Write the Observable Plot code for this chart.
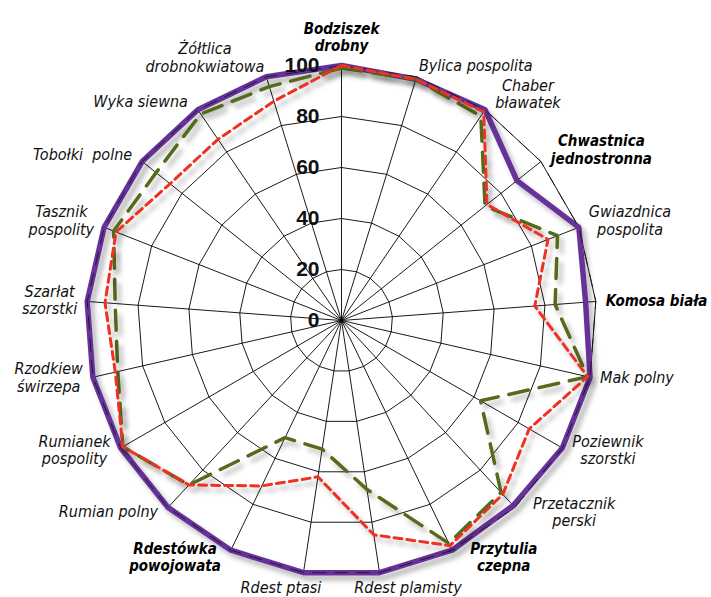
<!DOCTYPE html>
<html>
<head>
<meta charset="utf-8">
<script src="https://cdn.jsdelivr.net/npm/d3@7"></script>
<script src="https://cdn.jsdelivr.net/npm/@observablehq/plot@0.6"></script>
<style>
  html, body { margin: 0; padding: 0; background: #fff; }
  #chart svg { display: block; }
</style>
</head>
<body>
<div id="chart"></div>
<script>
// ---- data ----
const categories = ["Bodziszek drobny", "Bylica pospolita", "Chaber bławatek", "Chwastnica jednostronna", "Gwiazdnica pospolita", "Komosa biała", "Mak polny", "Poziewnik szorstki", "Przetacznik perski", "Przytulia czepna", "Rdest plamisty", "Rdest ptasi", "Rdestówka powojowata", "Rumian polny", "Rumianek pospolity", "Rzodkiew świrzepa", "Szarłat szorstki", "Tasznik pospolity", "Tobołki polne", "Wyka siewna", "Żółtlica drobnokwiatowa"];
const categoryLabels = ["Bodziszek\ndrobny", "Bylica pospolita", "Chaber\nbławatek", "Chwastnica\njednostronna", "Gwiazdnica\npospolita", "Komosa biała", "Mak polny", "Poziewnik\nszorstki", "Przetacznik\nperski", "Przytulia\nczepna", "Rdest plamisty", "Rdest ptasi", "Rdestówka\npowojowata", "Rumian polny", "Rumianek\npospolity", "Rzodkiew\nświrzepa", "Szarłat\nszorstki", "Tasznik\npospolity", "Tobołki  polne", "Wyka siewna", "Żółtlica\ndrobnokwiatowa"];
const boldCategories = ["Bodziszek drobny", "Chwastnica jednostronna", "Komosa biała", "Przytulia czepna", "Rdestówka powojowata"];
const seriesPurple = [100, 99, 100, 88, 100, 96, 100, 100, 99, 100, 100, 100, 100, 100, 100, 100, 100, 100, 100, 100, 100];
const seriesGreen  = [99, 99, 97, 72, 91, 84, 99, 63, 92, 97, 67, 51, 51, 88, 99, 90, 89, 96, 93, 98, 96];
const seriesRed    = [100, 99, 99, 73, 87, 76, 99, 85, 93, 98, 85, 62, 72, 88, 99, 91, 93, 95, 86, 86, 90];
const radialTicks = [0, 20, 40, 60, 80, 100];
const gridLevels = [20, 40, 60, 80, 100];

// ---- layout ----
const W = 711, H = 597;
const CX = 341, CY = 320, R = 255;
const pxPerUnit = R / 100;
const n = categories.length;
const ang = i => i * 2 * Math.PI / n;
const px = (v, i) => v * Math.sin(ang(i));
const py = (v, i) => v * Math.cos(ang(i));

// closed polygons: repeat the first vertex at the end
const idxClosed = d3.range(n + 1).map(j => j % n);
const rows = (vals) => idxClosed.map(i => ({i, v: vals[i]}));
const grid = gridLevels.flatMap(lv => idxClosed.map(i => ({lv, i})));
const spokes = categories.map((c, i) => ({i}));

const ctx = document.createElement("canvas").getContext("2d");
function tw(s, font) { ctx.font = font; return ctx.measureText(s).width; }
const LFAMILY = "'DejaVu Sans Condensed', sans-serif";
const LSIZE = 16, BSIZE = 15;
const LLINE = 17.5;

// category labels sit just outside the outer polygon, beside their spoke
const labelRows = categories.map((c, i) => {
  const bold = boldCategories.includes(c);
  const lines = categoryLabels[i].split("\n");
  const size = bold ? BSIZE : LSIZE;
  const font = `italic ${bold ? "bold" : "normal"} ${size}px ${LFAMILY}`;
  const w = d3.max(lines, l => tw(l, font));
  const h = lines.length * LLINE;
  const s = Math.sin(ang(i)), co = Math.cos(ang(i));
  const k = Math.min(1, Math.abs(s) * 3);
  const gap = (co < -0.55 && s > 0 && k === 1) ? 18 : 10;
  const dx = Math.sign(s) * k * (w / 2 + gap);
  let dy;
  if (co > 0) dy = -co * (h / 2 + 11) * (1 - k) - co * (h / 2 + 2) * k;
  else dy = -co * (h / 2 + 12) * (1 - k) + co * co * 8 * k;
  const cxp = R * s + dx, cyp = -R * co + dy;
  return {i, bold, text: categoryLabels[i], x: cxp / pxPerUnit, y: -cyp / pxPerUnit};
});

const xDomain = [-CX / pxPerUnit, (W - CX) / pxPerUnit];
const yDomain = [-(H - CY) / pxPerUnit, CY / pxPerUnit];

const seriesMark = (vals, opts) => Plot.line(rows(vals), {
  x: d => px(d.v, d.i), y: d => py(d.v, d.i),
  strokeLinejoin: "miter", className: "series", ...opts
});

const chart = Plot.plot({
  width: W, height: H,
  marginTop: 0, marginRight: 0, marginBottom: 0, marginLeft: 0,
  x: {domain: xDomain, range: [0, W], axis: null},
  y: {domain: yDomain, range: [H, 0], axis: null},
  style: {background: "#fff", overflow: "visible"},
  marks: [
    Plot.line(grid, {x: d => px(d.lv, d.i), y: d => py(d.lv, d.i), z: "lv", stroke: "#000", strokeWidth: 0.9}),
    Plot.link(spokes, {x1: 0, y1: 0, x2: d => px(100, d.i), y2: d => py(100, d.i), stroke: "#000", strokeWidth: 0.9}),
    seriesMark(seriesPurple, {stroke: "#663399", strokeWidth: 5.5}),
    Plot.line(idxClosed.map(i => ({i})), {x: d => px(100, d.i), y: d => py(100, d.i), stroke: "#111", strokeWidth: 0.8, strokeDasharray: "13,9"}),
    seriesMark(seriesGreen, {stroke: "#546b1a", strokeWidth: 3.5, strokeDasharray: "20,11"}),
    seriesMark(seriesRed, {stroke: "#ee3124", strokeWidth: 3, strokeDasharray: "8,5"}),
    Plot.text(radialTicks, {x: 0, y: d => d, text: d => String(d), textAnchor: "end", dx: -22, fontSize: 21, fontWeight: "bold", fontFamily: "'Liberation Sans', Arial, sans-serif", fill: "#111"}),
    Plot.text(labelRows.filter(d => !d.bold), {x: "x", y: "y", text: "text", textAnchor: "middle", lineAnchor: "middle", lineHeight: LLINE / LSIZE, fontSize: LSIZE, fontStyle: "italic", fontFamily: LFAMILY, fill: "#111"}),
    Plot.text(labelRows.filter(d => d.bold), {x: "x", y: "y", text: "text", textAnchor: "middle", lineAnchor: "middle", lineHeight: LLINE / BSIZE, fontSize: BSIZE, fontStyle: "italic", fontWeight: "bold", fontFamily: LFAMILY, fill: "#000"})
  ]
});

// soft drop shadow under the three series lines
const ns = "http://www.w3.org/2000/svg";
const defs = document.createElementNS(ns, "defs");
defs.innerHTML = '<filter id="shadow" x="-10%" y="-10%" width="130%" height="130%"><feDropShadow dx="4" dy="5" stdDeviation="2.4" flood-color="#000" flood-opacity="0.28"/></filter>';
chart.insertBefore(defs, chart.firstChild);
d3.select(chart).selectAll('g.series').attr("filter", "url(#shadow)");
document.getElementById("chart").appendChild(chart);
</script>
</body>
</html>
